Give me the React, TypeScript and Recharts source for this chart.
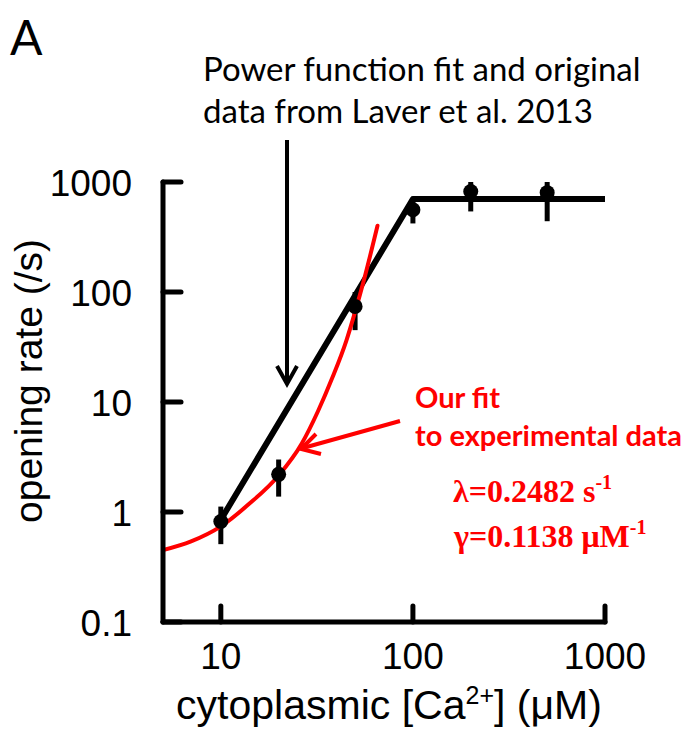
// log-log opening rate vs cytoplasmic Ca2+

import { ComposedChart, Line, Scatter, ErrorBar, XAxis, YAxis } from "recharts";

// power function fit (Laver et al. 2013)
const fitCa = [10, 100, 1000];
const fitRate = [0.85, 700, 700];

// our fit
const ourCa = [5, 7, 10, 14, 20, 26.4, 32, 38, 45, 50, 56, 65.4];
const ourRate = [0.45, 0.54, 0.74, 1.18, 2.15, 4.2, 8.2, 16.5, 36, 66, 135, 400];

// experimental points with error bars
const ptCa = [10, 20, 50, 100, 200, 500];
const ptRate = [0.82, 2.2, 74, 560, 820, 800];
const ptLow = [0.51, 1.38, 45, 420, 540, 440];
const ptHigh = [1.12, 3.0, 100, 700, 1000, 1000];

const xTicks = [10, 100, 1000];
const yTicks = [0.1, 1, 10, 100, 1000];

const fitData = fitCa.map((x, i) => ({ x, y: fitRate[i] }));
const ourData = ourCa.map((x, i) => ({ x, y: ourRate[i] }));
const pointData = ptCa.map((x, i) => ({
  x,
  y: ptRate[i],
  err: [ptRate[i] - ptLow[i], ptHigh[i] - ptRate[i]],
}));

const SANS = "'Liberation Sans', Arial, sans-serif";
const CAL = "Lato, 'Open Sans', sans-serif";
const SERIF = "'Liberation Serif', 'Times New Roman', serif";
const RED = "#ff0000";

const XTick = (props: any) => {
  const { x, y, payload } = props;
  return (
    <g>
      <line x1={x} y1={y} x2={x} y2={y - 16} stroke="#000" strokeWidth={5} strokeLinecap="round" />
      <text x={x} y={y + 47} textAnchor="middle" fontSize={37} fontFamily={SANS} fill="#000">
        {payload.value}
      </text>
    </g>
  );
};

const YTick = (props: any) => {
  const { x, y, payload } = props;
  return (
    <g>
      <line x1={x} y1={y} x2={x + 18} y2={y} stroke="#000" strokeWidth={5} strokeLinecap="round" />
      <text x={x - 31} y={y + 14} textAnchor="end" fontSize={37} fontFamily={SANS} fill="#000">
        {payload.value}
      </text>
    </g>
  );
};

const Dot = (p: any) => <circle cx={p.cx} cy={p.cy} r={7.5} fill="#000" />;

export default function App() {
  return (
    <div style={{ position: "absolute", left: 0, top: 0, width: 691, height: 732, background: "#fff" }}>
      <ComposedChart width={691} height={732} margin={{ top: 182, right: 86, bottom: 50, left: 103 }}>
        <XAxis
          type="number"
          dataKey="x"
          scale="log"
          domain={[5, 1000]}
          ticks={xTicks}
          interval={0}
          allowDataOverflow
          height={60}
          axisLine={{ stroke: "#000", strokeWidth: 5, strokeLinecap: "round" }}
          tickLine={false}
          tickSize={0}
          tickMargin={0}
          tick={<XTick />}
        />
        <YAxis
          type="number"
          dataKey="y"
          scale="log"
          domain={[0.1, 1000]}
          ticks={yTicks}
          interval={0}
          allowDataOverflow
          width={60}
          axisLine={{ stroke: "#000", strokeWidth: 5, strokeLinecap: "round" }}
          tickLine={false}
          tickSize={0}
          tickMargin={0}
          tick={<YTick />}
        />
        <Line
          data={fitData}
          dataKey="y"
          type="linear"
          stroke="#000"
          strokeWidth={6}
          strokeLinejoin="round"
          strokeLinecap="round"
          dot={false}
          isAnimationActive={false}
        />
        <Scatter data={pointData} dataKey="y" shape={Dot} isAnimationActive={false}>
          <ErrorBar dataKey="err" direction="y" width={0} stroke="#000" strokeWidth={5} isAnimationActive={false} />
        </Scatter>
        <Line
          data={ourData}
          dataKey="y"
          type="monotone"
          stroke={RED}
          strokeWidth={4}
          strokeLinecap="round"
          dot={false}
          isAnimationActive={false}
        />
      </ComposedChart>

      {/* annotations */}
      <svg
        width={691}
        height={732}
        style={{ position: "absolute", left: 0, top: 0, pointerEvents: "none" }}
      >
        <text x={10} y={55} fontSize={48} fontFamily={CAL} fill="#000">A</text>

        <text x={203} y={81} fontSize={33} fontFamily={CAL} fill="#000">Power function fit and original</text>
        <text x={203} y={123} fontSize={33} fontFamily={CAL} fill="#000">data from Laver et al. 2013</text>
        <line x1={287} y1={140} x2={287} y2={383} stroke="#000" strokeWidth={4} />
        <polyline points="277,366 287,384 297,366" fill="none" stroke="#000" strokeWidth={4} />

        <text x={415} y={408} fontSize={29} fontWeight="bold" fontFamily={CAL} fill={RED}>Our fit</text>
        <text x={415} y={446} fontSize={29} fontWeight="bold" fontFamily={CAL} fill={RED}>to experimental data</text>
        <line x1={400} y1={421} x2={303} y2={448} stroke={RED} strokeWidth={4} />
        <polyline points="316,434 301,449 321,454" fill="none" stroke={RED} strokeWidth={4} />

        <text x={453} y={502} fontSize={32} fontWeight="bold" fontFamily={SERIF} fill={RED}>
          λ=0.2482 s<tspan dy={-13} fontSize={20}>-1</tspan>
        </text>
        <text x={454} y={547} fontSize={32} fontWeight="bold" fontFamily={SERIF} fill={RED}>
          γ=0.1138 μM<tspan dy={-13} fontSize={20}>-1</tspan>
        </text>

        <text
          x={0}
          y={0}
          transform="translate(42 381) rotate(-90)"
          textAnchor="middle"
          fontSize={39}
          fontFamily={SANS}
          fill="#000"
        >
          opening rate (/s)
        </text>
        <text x={389} y={719} textAnchor="middle" fontSize={41} fontFamily={SANS} fill="#000">
          cytoplasmic [Ca<tspan dy={-15} fontSize={25}>2+</tspan>
          <tspan dy={15}>] (μM)</tspan>
        </text>
      </svg>
    </div>
  );
}
